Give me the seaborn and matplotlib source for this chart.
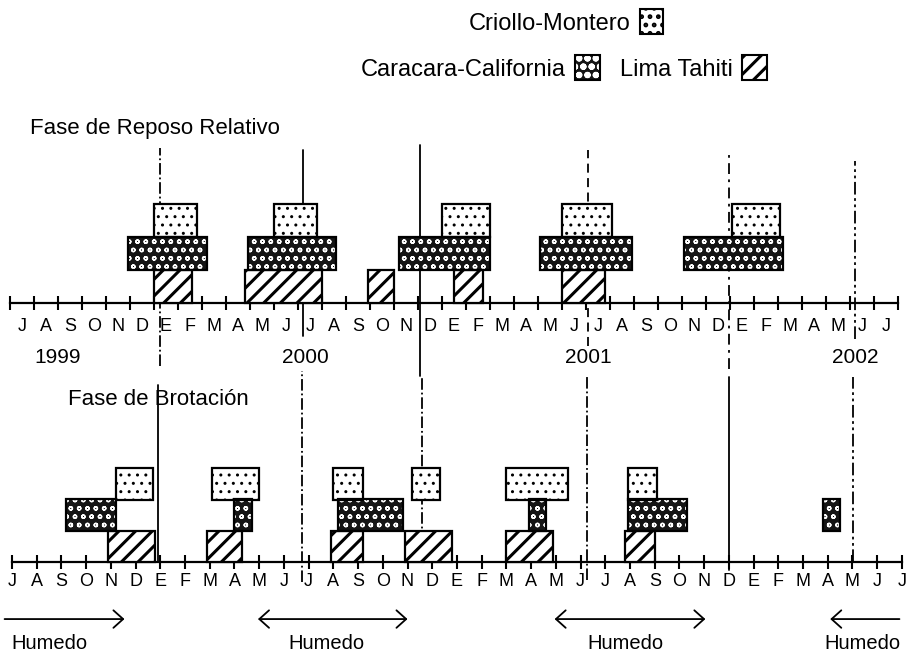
import numpy as np
import matplotlib.pyplot as plt
import seaborn as sns
from matplotlib.patches import Patch

sns.set_style("white")
plt.rcParams["font.family"] = ["Liberation Sans", "DejaVu Sans"]
plt.rcParams["text.color"] = "black"
plt.rcParams["xtick.color"] = "black"
plt.rcParams["axes.edgecolor"] = "black"
plt.rcParams["hatch.linewidth"] = 2.2

# meses desde julio 1999 (0 = julio 1999)
meses = list("JASOND" + "EFMAMJJASOND" + "EFMAMJJASOND" + "EFMAMJJ")
anios = ["1999", "2000", "2001", "2002"]
anios_x = [2.0, 12.3, 24.1, 35.2]

# Fase de Reposo Relativo
rep_criollo_ini = [6.0, 11.0, 18.0, 23.0, 30.1]
rep_criollo_fin = [7.8, 12.8, 20.0, 25.1, 32.1]
rep_caracara_ini = [4.9, 9.9, 16.2, 22.1, 28.1]
rep_caracara_fin = [8.2, 13.6, 20.0, 25.9, 32.2]
rep_lima_ini = [6.0, 9.8, 14.9, 18.5, 23.0]
rep_lima_fin = [7.6, 13.0, 16.0, 19.7, 24.8]
rep_lineas = [6.25, 12.2, 17.1, 24.1, 29.95, 35.2]

# Fase de Brotación
bro_criollo_ini = [4.2, 8.1, 13.0, 16.2, 20.0, 24.9]
bro_criollo_fin = [5.7, 10.0, 14.2, 17.3, 22.5, 26.1]
bro_caracara_ini = [2.2, 9.0, 13.2, 20.9, 24.9, 32.8]
bro_caracara_fin = [4.2, 9.7, 15.8, 21.6, 27.3, 33.5]
bro_lima_ini = [3.9, 7.9, 12.9, 15.9, 20.0, 24.8]
bro_lima_fin = [5.8, 9.3, 14.2, 17.8, 21.9, 26.0]
bro_lineas = [5.91, 11.73, 16.59, 23.26, 29.0, 34.02]

# periodos humedos (flechas)
humedo_ini = [-0.3, 9.95, 21.95, 35.9]
humedo_fin = [4.55, 16.0, 28.05, 33.1]
humedo_flecha = ["->", "<->", "<->", "->"]
humedo_texto_x = [1.5, 12.7, 24.8, 34.4]

# estilos de las lineas verticales
rep_estilos = ["-.", "-", "-", (0, (5, 3)), (0, (6, 3, 1.5, 3)), (0, (7, 2, 1.5, 2, 1.5, 2))]
rep_y0 = [-1.9, -1.0, -2.2, -1.3, -2.0, -1.1]
rep_y1 = [4.7, 4.65, 4.8, 4.65, 4.65, 4.3]
bro_estilos = ["-", "-.", "-.", "-.", "-", (0, (7, 2, 1.5, 2, 1.5, 2))]
bro_y0 = [0.0, -0.64, 0.0, -0.58, -0.26, 0.0]
bro_y1 = [5.65, 6.1, 5.95, 5.95, 5.9, 5.9]

ESTILO = {
    "criollo": dict(cara="white", trama="..", color_trama="black", grosor=1.0),
    "caracara": dict(cara="#151515", trama="oo", color_trama="white", grosor=1.0),
    "lima": dict(cara="white", trama="//", color_trama="black", grosor=2.2),
}


def barras(ax, ini, fin, fila, estilo):
    ini = np.asarray(ini)
    fin = np.asarray(fin)
    e = ESTILO[estilo]
    with plt.rc_context({"hatch.linewidth": e["grosor"]}):
        fondo = ax.barh(fila, fin - ini, left=ini, height=1, align="edge",
                        color=e["cara"], edgecolor=e["color_trama"],
                        hatch=e["trama"], linewidth=0, zorder=3)
    for p in fondo.patches:
        if hasattr(p, "set_hatch_linewidth"):
            p.set_hatch_linewidth(e["grosor"])
    ax.barh(fila, fin - ini, left=ini, height=1, align="edge", fill=False,
            edgecolor="black", linewidth=1.6, zorder=4)


def eje_meses(ax, n_ticks):
    sns.despine(ax=ax, left=True)
    ax.patch.set_visible(False)
    ax.set_yticks([])
    ax.spines["bottom"].set_position(("data", 0))
    ax.spines["bottom"].set_bounds(0, n_ticks - 1)
    ax.spines["bottom"].set_linewidth(1.6)


fig = plt.figure(figsize=(9.12, 6.56), dpi=100)

# ---- Fase de Reposo Relativo ----
ax_rep = fig.add_axes([0, 1 - 385.5 / 656, 1, 313.5 / 656])
ax_rep.set_xlim(-10 / 24, 902 / 24)
ax_rep.set_ylim(-2.5, 7)
eje_meses(ax_rep, 38)
ax_rep.set_xticks(np.arange(0, 38))
ax_rep.set_xticks(np.arange(0.5, 37), labels=meses, minor=True)
ax_rep.tick_params(axis="x", which="major", bottom=True, direction="inout",
                   length=10, width=1.5, labelbottom=False)
ax_rep.tick_params(axis="x", which="minor", bottom=True, length=0, pad=11,
                   labelsize=13)

for x, y0, y1, ls in zip(rep_lineas, rep_y0, rep_y1, rep_estilos):
    ax_rep.plot([x, x], [y0, y1], color="black", lw=1.3, ls=ls, zorder=1,
                clip_on=False)
barras(ax_rep, rep_lima_ini, rep_lima_fin, 0, "lima")
barras(ax_rep, rep_caracara_ini, rep_caracara_fin, 1, "caracara")
barras(ax_rep, rep_criollo_ini, rep_criollo_fin, 2, "criollo")

ax_rep.text(0.83, 5.3, "Fase de Reposo Relativo", fontsize=16, ha="left",
            va="center")
for x, a in zip(anios_x, anios):
    ax_rep.text(x, -1.64, a, fontsize=15, ha="center", va="center")

# ---- Fase de Brotación ----
ax_bro = fig.add_axes([0, 0, 1, 281.7 / 656])
ax_bro.set_xlim(-12 / 24.72, 900 / 24.72)
ax_bro.set_ylim(-3.0, 6.0)
eje_meses(ax_bro, 37)
ax_bro.set_xticks(np.arange(0, 37), labels=meses)
ax_bro.tick_params(axis="x", which="major", bottom=True, direction="inout",
                   length=10, width=1.5, pad=3, labelsize=13)

for x, y0, y1, ls in zip(bro_lineas, bro_y0, bro_y1, bro_estilos):
    ax_bro.plot([x, x], [y0, y1], color="black", lw=1.3, ls=ls, zorder=1,
                clip_on=False)
barras(ax_bro, bro_lima_ini, bro_lima_fin, 0, "lima")
barras(ax_bro, bro_caracara_ini, bro_caracara_fin, 1, "caracara")
barras(ax_bro, bro_criollo_ini, bro_criollo_fin, 2, "criollo")

ax_bro.text(2.27, 5.18, "Fase de Brotación", fontsize=16, ha="left",
            va="center")

for x0, x1, fl, xt in zip(humedo_ini, humedo_fin, humedo_flecha, humedo_texto_x):
    ax_bro.annotate("", xy=(x1, -1.82), xytext=(x0, -1.82),
                    arrowprops=dict(arrowstyle=fl + ", head_length=0.5, head_width=0.45",
                                    lw=1.3, color="black", mutation_scale=14,
                                    shrinkA=0, shrinkB=0))
    ax_bro.text(xt, -2.6, "Humedo", fontsize=14.5, ha="center", va="center")

# ---- leyenda ----
h_criollo = Patch(facecolor="white", edgecolor="black", hatch="..", linewidth=1.5)
h_car_fondo = Patch(facecolor="#151515", edgecolor="white", hatch="oo", linewidth=0)
h_car_borde = Patch(fill=False, edgecolor="black", linewidth=1.5)
h_lima = Patch(facecolor="white", edgecolor="black", hatch="//", linewidth=1.5)
for p, g in [(h_criollo, 1.0), (h_car_fondo, 1.0), (h_lima, 2.2)]:
    if hasattr(p, "set_hatch_linewidth"):
        p.set_hatch_linewidth(g)

fig.legend([h_criollo], ["Criollo-Montero"], loc="center",
           bbox_to_anchor=(566 / 912, 1 - 22 / 656), frameon=False,
           markerfirst=False, fontsize=17, handlelength=0.95,
           handleheight=1.2, handletextpad=0.4)
fig.legend([(h_car_fondo, h_car_borde), h_lima],
           ["Caracara-California", "Lima Tahiti"], loc="center",
           bbox_to_anchor=(564 / 912, 1 - 68 / 656), frameon=False,
           markerfirst=False, fontsize=17, ncol=2, handlelength=1.05,
           handleheight=1.25, handletextpad=0.4, columnspacing=0.85)

fig.savefig("out.png", dpi=100)
